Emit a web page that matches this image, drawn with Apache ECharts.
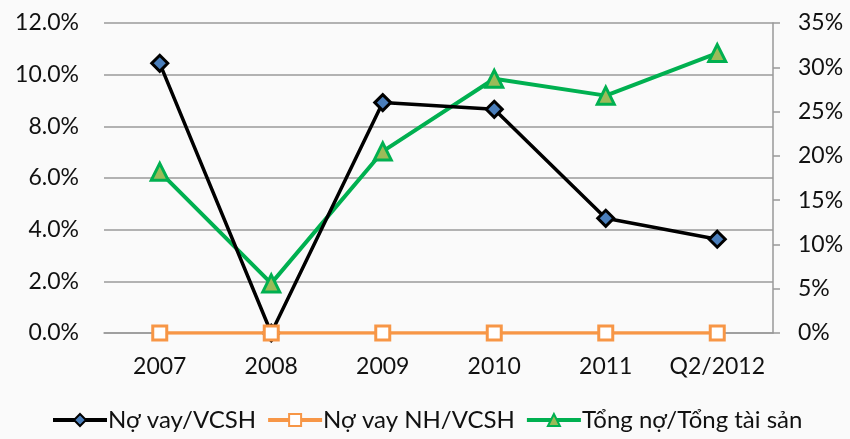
<!DOCTYPE html>
<html><head><meta charset="utf-8">
<script src="https://cdn.jsdelivr.net/npm/echarts@6/dist/echarts.min.js"></script>
<style>html,body{margin:0;padding:0;background:#fafafa;}#c{width:850px;height:439px;}</style>
</head><body><div id="c"></div>
<script>
const categories = ['2007','2008','2009','2010','2011','Q2/2012'];
const noVayVCSH = [10.44, 0.0, 8.92, 8.66, 4.44, 3.63];
const noVayNHVCSH = [0, 0, 0, 0, 0, 0];
const tongNoTongTS = [18.2, 5.6, 20.5, 28.7, 26.8, 31.6];
const leftTicks = {min:0, max:12, interval:2};
const rightTicks = {min:0, max:35, interval:5};
const seriesNames = ['Nợ vay/VCSH','Nợ vay NH/VCSH','Tổng nợ/Tổng tài sản'];

const font = 'Lato, "Noto Sans", sans-serif';
const chart = echarts.init(document.getElementById('c'));
chart.setOption({
  backgroundColor: '#fafafa',
  animation: false,
  grid: {left:104, right:77, top:23, bottom:106, containLabel:false},
  legend: {
    bottom: 2, left: 46, itemGap: 10, itemWidth: 54, itemHeight: 15,
    lineStyle: {width: 4},
    textStyle: {fontFamily: font, fontSize: 24, color: '#111', padding:[0,0,0,-4]},
    data: seriesNames
  },
  xAxis: {
    type: 'category', data: categories, boundaryGap: true,
    axisLine: {show: true, lineStyle: {color: '#999', width: 1.5}},
    axisTick: {show: false},
    axisLabel: {fontFamily: font, fontSize: 23, color: '#111', margin: 22, interval: 0}
  },
  yAxis: [
    {type:'value', min:leftTicks.min, max:leftTicks.max, interval:leftTicks.interval,
     axisLine:{show:false}, axisTick:{show:false},
     splitLine:{show:true, lineStyle:{color:'#9a9a9a', width:1.5}},
     axisLabel:{fontFamily:font, fontSize:23, color:'#111', margin:25,
       formatter: v => v.toFixed(1) + '%'}},
    {type:'value', position:'right', min:rightTicks.min, max:rightTicks.max, interval:rightTicks.interval,
     axisLine:{show:true, lineStyle:{color:'#999', width:1.5}},
     axisTick:{show:true, length:7, lineStyle:{color:'#999', width:1.5}},
     splitLine:{show:false},
     axisLabel:{fontFamily:font, fontSize:23, color:'#111', margin:25,
       formatter: v => v + '%'}}
  ],
  series: [
    {name: seriesNames[0], type:'line', yAxisIndex:0, data:noVayVCSH,
     symbol:'diamond', symbolSize:16, z:3,
     lineStyle:{color:'#000', width:3.5},
     itemStyle:{color:'#4a7ebb', borderColor:'#000', borderWidth:3}},
    {name: seriesNames[1], type:'line', yAxisIndex:0, data:noVayNHVCSH,
     symbol:'rect', symbolSize:14, z:4,
     lineStyle:{color:'#f79646', width:3.5},
     itemStyle:{color:'#fff', borderColor:'#f79646', borderWidth:3}},
    {name: seriesNames[2], type:'line', yAxisIndex:1, data:tongNoTongTS,
     symbol:'triangle', symbolSize:17, z:2,
     lineStyle:{color:'#00b050', width:4},
     itemStyle:{color:'#9bbb59', borderColor:'#00b050', borderWidth:3}}
  ]
});
</script></body></html>
